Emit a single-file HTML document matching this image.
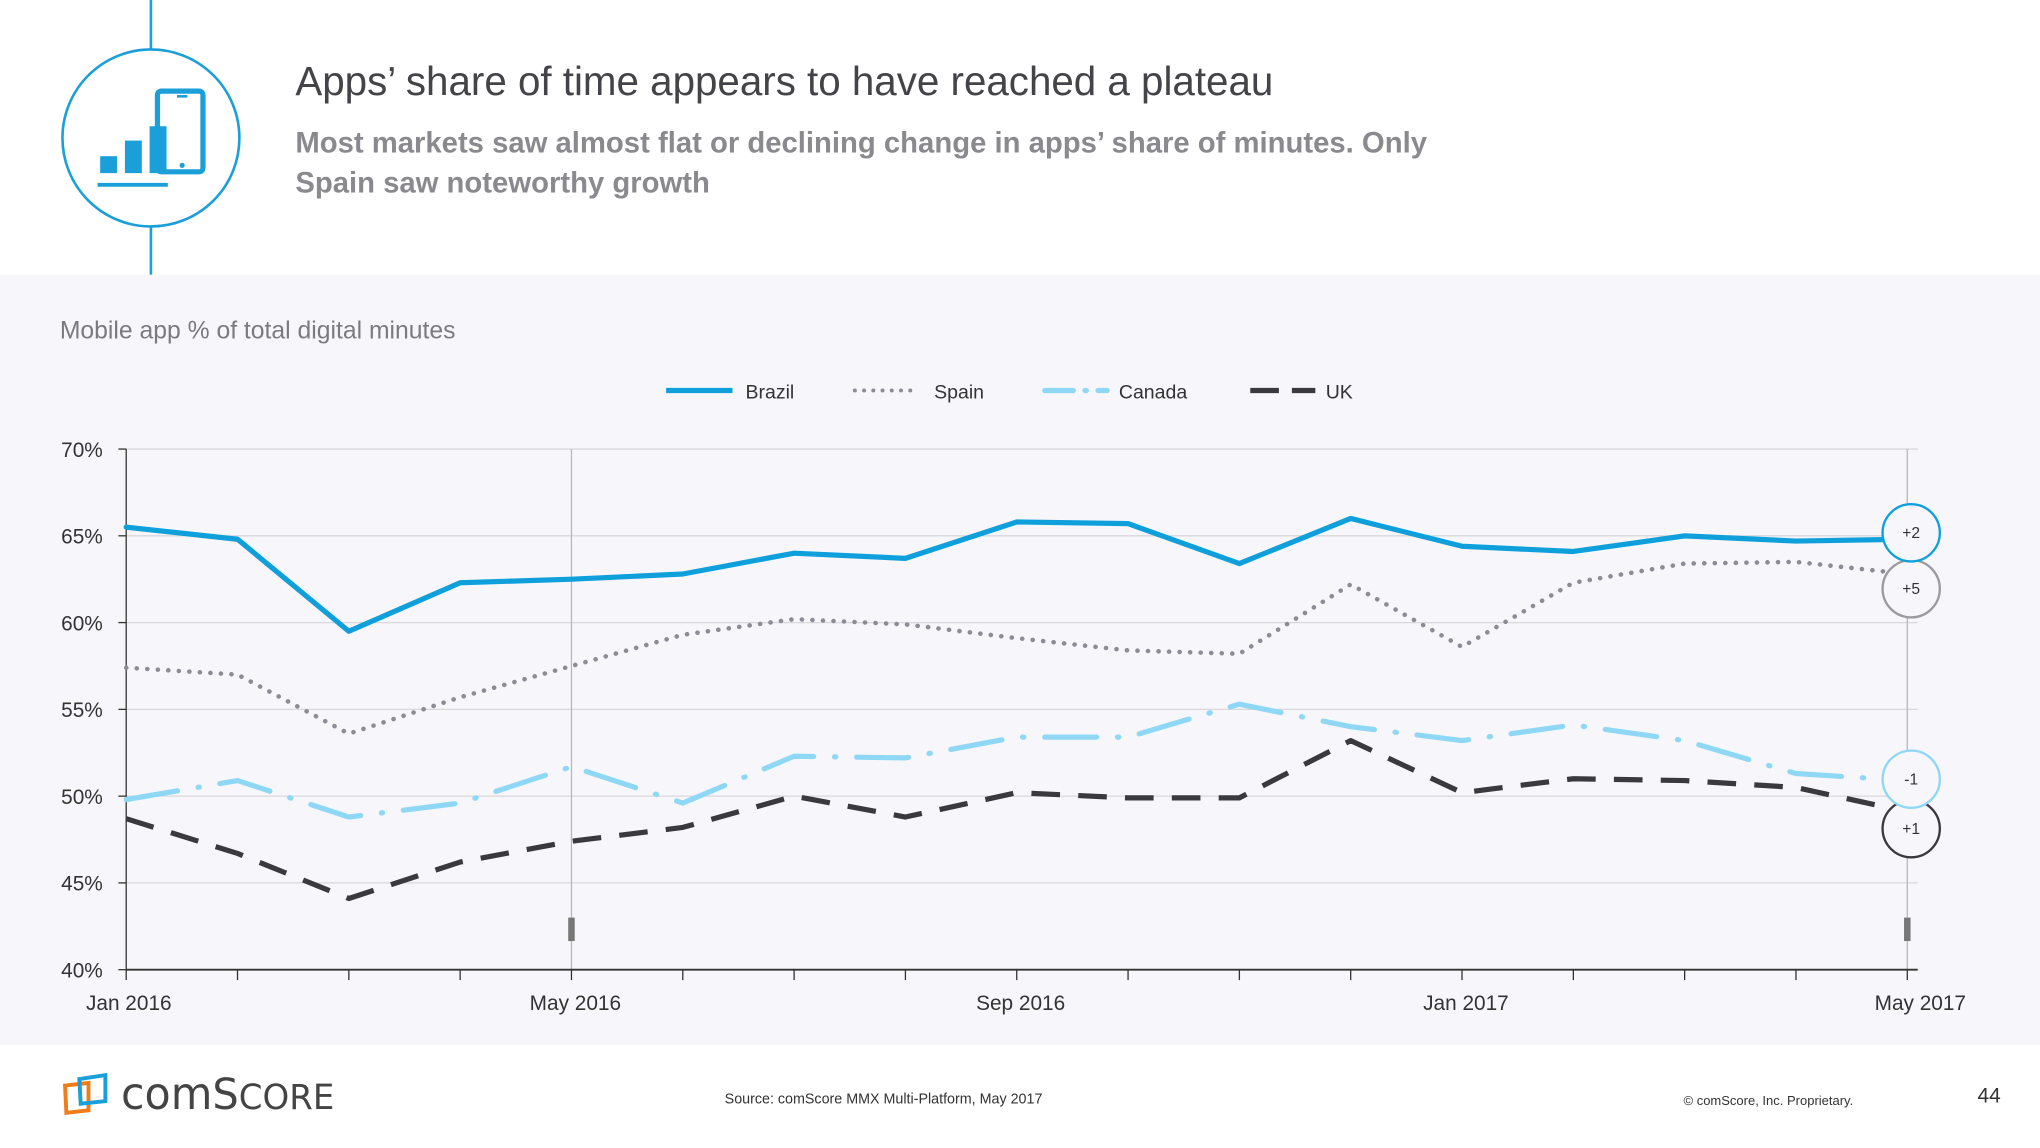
<!DOCTYPE html>
<html><head><meta charset="utf-8"><style>
html,body{margin:0;padding:0;background:#fff;}
svg{display:block;font-family:"Liberation Sans","DejaVu Sans",sans-serif;}
</style></head><body>
<svg id="page" width="2040" height="1148" viewBox="0 0 1568 882" preserveAspectRatio="none" xmlns="http://www.w3.org/2000/svg">
<rect x="0" y="0" width="1568" height="882" fill="#ffffff"/>
<rect x="0" y="211" width="1568" height="592" fill="#f7f7fb"/>
<g>
<line x1="116" y1="0" x2="116" y2="38" stroke="#1a9fd9" stroke-width="2"/>
<line x1="116" y1="174" x2="116" y2="211" stroke="#1a9fd9" stroke-width="2"/>
<circle cx="116" cy="106" r="68" fill="none" stroke="#1a9fd9" stroke-width="2"/>
<rect x="77" y="120" width="13" height="13" fill="#1a9fd9"/>
<rect x="96" y="108" width="13" height="25" fill="#1a9fd9"/>
<rect x="115" y="97" width="13" height="36" fill="#1a9fd9"/>
<rect x="121" y="70" width="35" height="62" rx="3" fill="none" stroke="#1a9fd9" stroke-width="4"/>
<line x1="136" y1="74" x2="144" y2="74" stroke="#1a9fd9" stroke-width="2"/>
<circle cx="140" cy="127" r="2" fill="#1a9fd9"/>
<line x1="75" y1="142" x2="129" y2="142" stroke="#1a9fd9" stroke-width="3"/>
</g>
<text x="227" y="73" font-size="31" fill="#444448">Apps’ share of time appears to have reached a plateau</text>
<text font-size="22.5" font-weight="bold" fill="#8a8a8e"><tspan x="227" y="117">Most markets saw almost flat or declining change in apps’ share of minutes. Only</tspan><tspan x="227" y="148">Spain saw noteworthy growth</tspan></text>
<text x="46" y="260" font-size="19" fill="#7a7a80">Mobile app % of total digital minutes</text>
<g font-size="15" fill="#333">
<g><line x1="512" y1="300" x2="563" y2="300" stroke="#0fa0dc" stroke-width="4"/><text x="573" y="306">Brazil</text></g>
<g><line x1="657" y1="300" x2="705" y2="300" stroke="#8c8c96" stroke-width="3" stroke-dasharray="0.1 7" stroke-linecap="round"/><text x="718" y="306">Spain</text></g>
<g><line x1="803" y1="300" x2="851" y2="300" stroke="#8fd8f5" stroke-width="4" stroke-dasharray="22 9 1 9" stroke-linecap="round"/><text x="860" y="306">Canada</text></g>
<g><line x1="961" y1="300" x2="1011" y2="300" stroke="#3a3a3e" stroke-width="4" stroke-dasharray="22 10"/><text x="1019" y="306">UK</text></g>
</g>
<g id="chart"></g>
<g>
<g>
<path d="M50 834 L68 832 L68 853 L51 855 Z" fill="none" stroke="#f07c1a" stroke-width="3"/>
<path d="M61 829 L81 826 L81 846 L62 848 Z" fill="none" stroke="#1a9fd9" stroke-width="3"/>
<text x="93" y="852" font-size="34" fill="#444" font-family="DejaVu Sans, sans-serif" textLength="164" lengthAdjust="spacingAndGlyphs">com<tspan font-size="33">S</tspan><tspan font-size="27">CORE</tspan></text>
</g>
<text x="557" y="848" font-size="11" fill="#333">Source: comScore MMX Multi-Platform, May 2017</text>
<text x="1294" y="849" font-size="10" fill="#333">© comScore, Inc. Proprietary.</text>
<text x="1520" y="847" font-size="16" fill="#333">44</text>
</g>
</svg>
<script>
const months = ["Jan 2016","Feb","Mar","Apr","May 2016","Jun","Jul","Aug","Sep 2016","Oct","Nov","Dec","Jan 2017","Feb","Mar","Apr","May 2017"];
const tickLabels = ["Jan 2016","May 2016","Sep 2016","Jan 2017","May 2017"];
const yTicks = [40,45,50,55,60,65,70];
const brazil = [65.5,64.8,59.5,62.3,62.5,62.8,64.0,63.7,65.8,65.7,63.4,66.0,64.4,64.1,65.0,64.7,64.8];
const spain  = [57.4,57.0,53.6,55.7,57.5,59.3,60.2,59.9,59.1,58.4,58.2,62.2,58.6,62.3,63.4,63.5,62.8];
const canada = [49.8,50.9,48.8,49.6,51.7,49.6,52.3,52.2,53.4,53.4,55.3,54.0,53.2,54.1,53.2,51.3,50.9];
const uk     = [48.7,46.7,44.1,46.2,47.4,48.2,50.0,48.8,50.2,49.9,49.9,53.2,50.2,51.0,50.9,50.5,49.1];
const changes = ["+2","+5","-1","+1"];

const NS="http://www.w3.org/2000/svg";
const g=document.getElementById('chart');
const X0=97,X1=1466,Y0=745,Y1=345;
const x=i=>X0+(X1-X0)*i/(months.length-1);
const y=v=>Y0-(v-40)/30*(Y0-Y1);
function mk(t,a,p){const e=document.createElementNS(NS,t);for(const k in a)e.setAttribute(k,a[k]);(p||g).appendChild(e);return e;}
yTicks.forEach(v=>{
  const l=mk('line',{x1:X0,x2:1474,y1:y(v),y2:y(v),stroke:'#d8d8dc','stroke-width':1});
  
  
  mk('line',{x1:91,x2:X0,y1:y(v),y2:y(v),stroke:'#333','stroke-width':1});
  const t=mk('text',{x:79,y:y(v)+6,'text-anchor':'end','font-size':16,fill:'#333'});
  t.textContent=v+'%';
  
  
});
[4,16].forEach(i=>{
  mk('line',{x1:x(i),x2:x(i),y1:Y1,y2:Y0,stroke:'#b8b8bc','stroke-width':1});
  mk('rect',{x:x(i)-2.5,y:705,width:5,height:18,fill:'#777'});
});
mk('line',{x1:X0,x2:X0,y1:Y1,y2:Y0,stroke:'#333','stroke-width':1});
mk('line',{x1:X0,x2:1474,y1:Y0,y2:Y0,stroke:'#333','stroke-width':1.5});
months.forEach((m,i)=>{mk('line',{x1:x(i),x2:x(i),y1:Y0,y2:Y0+8,stroke:'#333','stroke-width':1});});
months.forEach((m,i)=>{
  if(tickLabels.indexOf(m)<0)return;
  const t=mk('text',{x:x(i)+(i==16?10:(i==0?2:3)),y:776,'text-anchor':'middle','font-size':16,fill:'#333'});
  t.textContent=m;
  
  
});
const series=[
 ['uk-line',uk,'#3a3a3e',4,'22 14','butt'],
 ['canada-line',canada,'#8fd8f5',4,'40 16 1 16','round'],
 ['spain-line',spain,'#8c8c96',3.5,'0.1 8','round'],
 ['brazil-line',brazil,'#0fa0dc',4,'','round']];
series.forEach(s=>{
  const d=s[1].map((v,i)=>(i?'L':'M')+x(i).toFixed(1)+' '+y(v).toFixed(1)).join(' ');
  const p=mk('path',{d:d,fill:'none',stroke:s[2],'stroke-width':s[3],'stroke-linecap':s[5],'stroke-linejoin':'round'});
  if(s[4])p.setAttribute('stroke-dasharray',s[4]);
  
  
});
const bubbles=[['spain-change',spain,'#9a9aa0',1],['brazil-change',brazil,'#0fa0dc',0],['uk-change',uk,'#3a3a3e',3],['canada-change',canada,'#8fd8f5',2]];
bubbles.forEach(b=>{
  const last=b[1][b[1].length-1];
  let cy=y(last);
  if(b[0]==='spain-change')cy=y(brazil[16])+38;
  if(b[0]==='brazil-change')cy=y(last)-5;
  if(b[0]==='canada-change')cy=y(last)-1;
  if(b[0]==='uk-change')cy=y(canada[16])+37;
  const c=mk('circle',{cx:1469,cy:cy,r:22,fill:'#f7f7fb',stroke:b[2],'stroke-width':1.8});
  
  
  const t=mk('text',{x:1469,y:cy+4,'text-anchor':'middle','font-size':12,fill:'#333'});
  t.textContent=changes[b[3]];
});
</script>
</body></html>
